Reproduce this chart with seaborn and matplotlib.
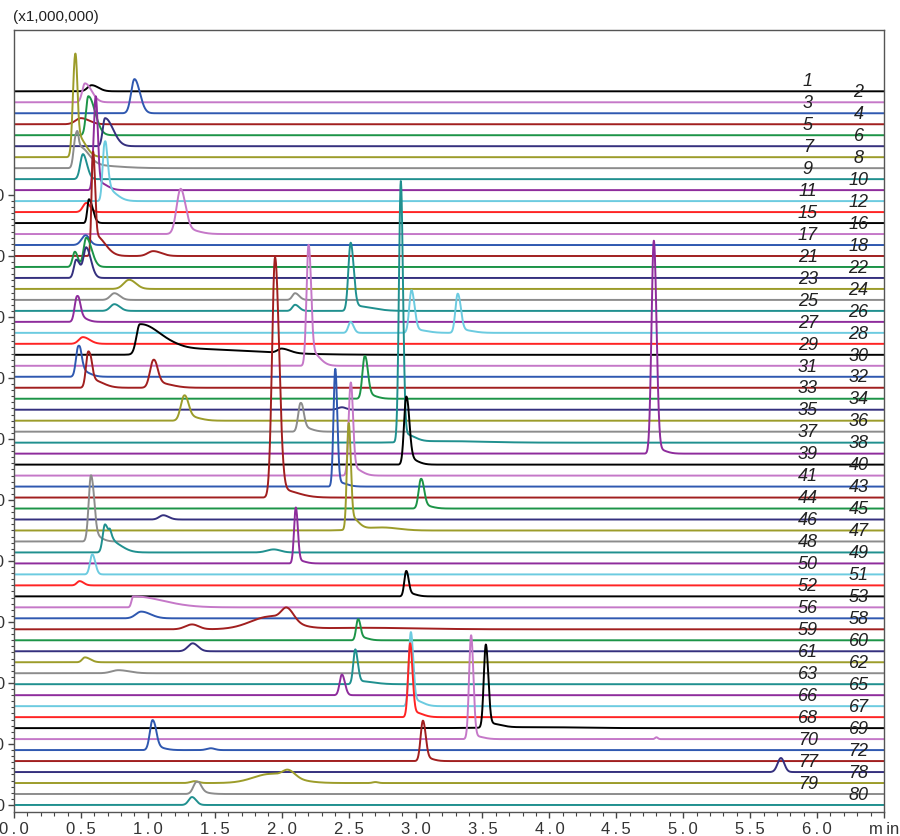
import numpy as np
import pandas as pd
import matplotlib
matplotlib.use("Agg")
import matplotlib.pyplot as plt
import seaborn as sns
from matplotlib.ticker import FixedLocator

# ---------------- data ----------------
trace_labels = [1, 2, 3, 4, 5, 6, 7, 8, 9, 10, 11, 12, 15, 16, 17, 18, 21, 22, 23, 24,
                25, 26, 27, 28, 29, 30, 31, 32, 33, 34, 35, 36, 37, 38, 39, 40, 41, 43,
                44, 45, 46, 47, 48, 49, 50, 51, 52, 53, 56, 58, 59, 60, 61, 62, 63, 65,
                66, 67, 68, 69, 70, 72, 77, 78, 79, 80]

# peaks: trace label, retention time (min), height (x1,000,000), left / right spread (min)
peak_trace = [1, 2, 3, 4, 5, 6,
              7, 7, 8, 8, 8, 9, 10, 10, 11, 11, 12, 15, 16, 16, 17,
              18, 18, 18, 21, 21, 22, 22, 23, 24, 24,
              25, 25, 25, 25, 26, 26, 27, 27, 27, 27, 27, 28,
              29, 29, 29, 30, 30, 31, 31, 32, 32, 32, 32, 33, 33, 34, 35, 35, 36, 36,
              37, 37, 37, 38, 38, 39, 39, 40, 40, 41, 41, 43, 43, 44, 44, 45,
              46, 46, 46, 47, 47, 48, 48, 48, 49, 49, 50, 51, 52, 52, 53, 56,
              58, 58, 58, 58, 59, 59, 60, 61, 62, 63, 63, 65, 66, 66, 67, 67,
              68, 68, 68, 69, 69, 69, 70, 70, 70, 72, 72, 77,
              78, 78, 78, 78, 79, 79, 80]
peak_rt = [0.58, 0.53, 0.90, 0.50, 0.555, 0.68,
           0.455, 0.47, 0.46, 0.48, 0.55, 0.515, 0.61, 0.63, 0.675, 0.69, 0.54, 0.56, 1.245, 1.30, 0.535,
           0.59, 0.61, 1.04, 0.455, 0.54, 0.465, 0.54, 0.86, 0.75, 2.10,
           0.75, 2.10, 2.515, 2.55, 0.47, 0.49, 2.515, 2.97, 3.00, 3.315, 3.34, 0.515,
           0.94, 1.25, 2.00, 2.20, 2.22, 0.48, 0.50, 0.555, 0.58, 1.04, 1.07, 2.62, 2.64, 2.45, 1.27, 1.30, 2.14, 2.16,
           2.89, 2.92, 3.20, 4.78, 4.80, 2.93, 2.95, 2.515, 2.53, 2.40, 2.42, 1.95, 1.99, 3.04, 3.06, 1.115,
           2.50, 2.52, 2.75, 0.575, 0.60, 0.68, 0.72, 1.94, 2.105, 2.12, 0.585, 0.49, 2.93, 2.95, 0.89, 0.95,
           1.33, 1.92, 2.04, 2.60, 2.57, 2.59, 1.335, 0.53, 0.78, 2.55, 2.58, 2.45, 2.965, 2.99, 2.96, 2.99,
           3.525, 3.55, 3.90, 3.415, 3.44, 4.80, 1.035, 1.06, 1.47, 3.055, 3.08, 5.73,
           1.35, 1.92, 2.05, 2.70, 1.365, 1.39, 1.33]
peak_height = [0.10, 0.31, 0.56, 0.10, 0.64, 0.46,
               1.55, 0.36, 0.49, 0.33, 0.05, 0.41, 1.52, 0.13, 0.88, 0.20, 0.15, 0.39, 0.74, 0.07, 0.16,
               1.66, 0.33, 0.08, 0.25, 0.48, 0.30, 0.49, 0.15, 0.11, 0.11,
               0.11, 0.10, 1.10, 0.08, 0.41, 0.08, 0.18, 0.70, 0.05, 0.64, 0.05, 0.11,
               0.49, 0.10, 0.07, 1.95, 0.23, 0.49, 0.10, 0.59, 0.13, 0.43, 0.08, 0.69, 0.07, 0.04, 0.39, 0.07, 0.46, 0.07,
               4.28, 0.13, 0.025, 3.48, 0.08, 1.10, 0.10, 1.48, 0.13, 1.92, 0.07, 3.92, 0.13, 0.48, 0.05, 0.07,
               1.72, 0.20, 0.05, 1.08, 0.10, 0.46, 0.18, 0.05, 0.90, 0.05, 0.33, 0.07, 0.41, 0.05, 0.18, 0.11,
               0.08, 0.21, 0.20, 0.025, 0.34, 0.05, 0.13, 0.08, 0.05, 0.57, 0.05, 0.34, 1.21, 0.10, 1.21, 0.08,
               1.36, 0.07, 0.016, 1.70, 0.05, 0.03, 0.49, 0.05, 0.03, 0.66, 0.05, 0.23,
               0.03, 0.15, 0.11, 0.016, 0.20, 0.03, 0.13]
peak_sigma_left = [0.03, 0.02, 0.025, 0.04, 0.017, 0.017,
                   0.016, 0.01, 0.015, 0.01, 0.05, 0.02, 0.015, 0.01, 0.014, 0.01, 0.025, 0.012, 0.03, 0.02, 0.03,
                   0.011, 0.01, 0.04, 0.017, 0.02, 0.017, 0.02, 0.04, 0.03, 0.02,
                   0.03, 0.02, 0.017, 0.02, 0.017, 0.01, 0.017, 0.017, 0.01, 0.017, 0.01, 0.03,
                   0.025, 0.15, 0.03, 0.015, 0.01, 0.017, 0.01, 0.017, 0.01, 0.025, 0.02, 0.017, 0.01, 0.03, 0.025, 0.02, 0.017, 0.01,
                   0.014, 0.01, 0.2, 0.017, 0.01, 0.016, 0.01, 0.015, 0.01, 0.013, 0.01, 0.022, 0.02, 0.017, 0.01, 0.03,
                   0.013, 0.01, 0.15, 0.017, 0.01, 0.017, 0.01, 0.05, 0.013, 0.01, 0.017, 0.02, 0.014, 0.01, 0.012, 0.04,
                   0.05, 0.15, 0.04, 0.3, 0.014, 0.01, 0.035, 0.02, 0.05, 0.015, 0.01, 0.017, 0.015, 0.01, 0.015, 0.01,
                   0.015, 0.01, 0.3, 0.015, 0.01, 0.01, 0.02, 0.01, 0.03, 0.017, 0.01, 0.025,
                   0.03, 0.13, 0.04, 0.02, 0.025, 0.01, 0.025]
peak_sigma_right = [0.05, 0.05, 0.04, 0.06, 0.05, 0.06,
                    0.016, 0.06, 0.015, 0.07, 0.2, 0.03, 0.015, 0.06, 0.022, 0.07, 0.03, 0.028, 0.035, 0.08, 0.03,
                    0.014, 0.07, 0.06, 0.022, 0.04, 0.03, 0.035, 0.05, 0.04, 0.03,
                    0.04, 0.03, 0.022, 0.12, 0.022, 0.05, 0.022, 0.022, 0.08, 0.022, 0.08, 0.05,
                    0.15, 0.5, 0.06, 0.018, 0.06, 0.022, 0.06, 0.022, 0.08, 0.03, 0.1, 0.022, 0.06, 0.03, 0.03, 0.08, 0.022, 0.06,
                    0.016, 0.07, 0.3, 0.02, 0.06, 0.022, 0.06, 0.017, 0.06, 0.015, 0.06, 0.03, 0.12, 0.022, 0.06, 0.04,
                    0.015, 0.05, 0.12, 0.022, 0.05, 0.03, 0.08, 0.05, 0.015, 0.05, 0.022, 0.03, 0.017, 0.05, 0.22, 0.07,
                    0.05, 0.15, 0.05, 0.4, 0.017, 0.05, 0.04, 0.04, 0.08, 0.018, 0.1, 0.022, 0.017, 0.06, 0.017, 0.06,
                    0.018, 0.08, 0.3, 0.017, 0.06, 0.01, 0.025, 0.06, 0.03, 0.02, 0.05, 0.025,
                    0.03, 0.16, 0.05, 0.02, 0.03, 0.06, 0.03]

x_tick_values = [0.0, 0.5, 1.0, 1.5, 2.0, 2.5, 3.0, 3.5, 4.0, 4.5, 5.0, 5.5, 6.0, 6.5]
x_tick_labels = ["0.0", "0.5", "1.0", "1.5", "2.0", "2.5", "3.0", "3.5", "4.0", "4.5",
                 "5.0", "5.5", "6.0", "min"]
y_tick_values = [0, 1, 2, 3, 4, 5, 6, 7, 8, 9, 10]
y_tick_labels = ["0.0", "1.0", "2.0", "3.0", "4.0", "5.0", "6.0", "7.0", "8.0", "9.0", "10.0"]

# ---------------- style ----------------
palette_cycle = ["#000000", "#c578c8", "#2f58b0", "#a11f1f", "#1c9447", "#35307e",
                 "#9c9c2a", "#8c8c8c", "#20908f", "#8e2c9c", "#6ccbe0", "#ff2424"]
color_slot_skip = {39: 2, 77: 1}   # colour cycle jumps in the original
baseline_step = 0.18

sns.set_style("ticks")
plt.rcParams["font.family"] = ["Liberation Sans", "DejaVu Sans"]

t = np.linspace(0, 6.5, 5201)
n = len(trace_labels)
frames = []
colors = {}
shift = 0
for k, lab in enumerate(trace_labels):
    shift += color_slot_skip.get(lab, 0)
    colors[str(lab)] = palette_cycle[(k + shift) % 12]
    base = (n - 1 - k) * baseline_step
    y = np.full_like(t, base)
    for tr, c, h, sl, sr in zip(peak_trace, peak_rt, peak_height, peak_sigma_left, peak_sigma_right):
        if tr == lab:
            s = np.where(t < c, sl, sr)
            y = y + h * np.exp(-0.5 * ((t - c) / s) ** 2)
    frames.append(pd.DataFrame({"time": t, "signal": y, "trace": str(lab)}))
df = pd.concat(frames, ignore_index=True)

fig = plt.figure(figsize=(9.0, 8.36), dpi=100)
ax = fig.add_axes([14 / 900, 24 / 836, 870 / 900, 782 / 836])

sns.lineplot(data=df, x="time", y="signal", hue="trace",
             hue_order=[str(l) for l in trace_labels], palette=colors,
             estimator=None, sort=False, legend=False, linewidth=1.4, ax=ax)

ax.set_xlim(0, 6.5)
ax.set_ylim(-0.115, 12.705)
ax.set_xlabel("")
ax.set_ylabel("")

thin = "\u2009"
ax.set_xticks(x_tick_values)
ax.set_xticklabels([lab.replace(".", thin + "." + thin) if lab != "min" else "m" + thin + "in"
                    for lab in x_tick_labels], fontsize=12, color="#333333")
ax.xaxis.set_minor_locator(FixedLocator(np.arange(0, 6.51, 0.1)))
ax.set_yticks(y_tick_values)
ax.set_yticklabels(y_tick_labels, fontsize=12, color="#333333")
ax.yaxis.set_minor_locator(FixedLocator(np.arange(0, 10.01, 0.1)))
ax.tick_params(axis="x", which="major", direction="out", length=4, width=1, color="#444444", pad=3)
ax.tick_params(axis="x", which="minor", direction="out", length=3, width=0.8, color="#444444")
ax.tick_params(axis="y", which="major", direction="out", length=4.5, width=1, color="#444444", pad=2)
ax.tick_params(axis="y", which="minor", direction="out", length=2.5, width=0.8, color="#444444")
for sp in ax.spines.values():
    sp.set_visible(True)
    sp.set_color("#555555")
    sp.set_linewidth(1.0)

for k, lab in enumerate(trace_labels):
    base = (n - 1 - k) * baseline_step
    xpos = 5.93 if k % 2 == 0 else 6.31
    ax.text(xpos, base + 0.16, str(lab), fontsize=13, style="italic", color="#222222",
            ha="center", va="center", zorder=5)

fig.text(13 / 900, 1 - 16.5 / 836, "(x1,000,000)", fontsize=11, color="#222222",
         ha="left", va="center")

fig.savefig("out.png", dpi=100)
